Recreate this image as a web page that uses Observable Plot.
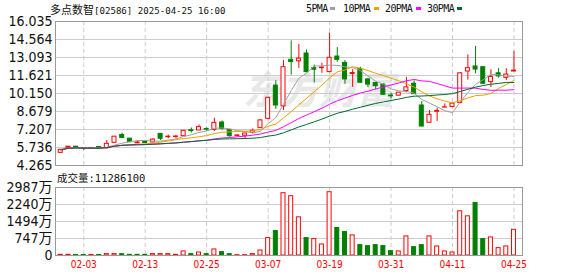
<!DOCTYPE html>
<html><head><meta charset="utf-8">
<script src="https://cdn.jsdelivr.net/npm/d3@7"></script>
<script src="https://cdn.jsdelivr.net/npm/@observablehq/plot@0.6"></script>
<style>
html,body{margin:0;padding:0;background:#fff;}
body{width:578px;height:276px;overflow:hidden;position:relative;}
#main,#vol{position:absolute;left:0;}
#main{top:0;} #vol{top:175px;}
.cjk{font-family:"Noto Sans CJK SC",sans-serif;}
.mono{font-family:"DejaVu Sans Mono",monospace;}
#title{position:absolute;left:50px;top:0px;line-height:17px;white-space:nowrap;color:#111;}
#title .cjk{font-size:11px;}
#title .mono{font-size:9.1px;}
.leg{position:absolute;top:2px;line-height:14px;font-size:10px;letter-spacing:-0.6px;color:#111;white-space:nowrap;}
.sw{position:absolute;top:7px;width:5px;height:3px;}
#vlabel{position:absolute;left:57px;top:169px;line-height:16px;white-space:nowrap;color:#111;}
#vlabel .cjk{font-size:10.5px;}
#vlabel .mono{font-size:10.5px;}
svg text{font-family:"Liberation Sans Narrow","Arial Narrow","DejaVu Sans Condensed","Noto Sans CJK SC",sans-serif;}
</style></head><body>
<div id="main"></div>
<div id="vol"></div>
<div id="title"><span class="cjk">多点数智</span><span class="mono">[02586] 2025-04-25 16:00</span></div>
<div id="legend"></div>
<div id="vlabel"><span class="cjk">成交量</span><span class="mono">:11286100</span></div>
<script>
// ---- data ----
const dates = ["01-24","01-27","01-28","02-03","02-04","02-05","02-06","02-07","02-10","02-11","02-12","02-13","02-14","02-17","02-18","02-19","02-20","02-21","02-24","02-25","02-26","02-27","02-28","03-03","03-04","03-05","03-06","03-07","03-10","03-11","03-12","03-13","03-14","03-17","03-18","03-19","03-20","03-21","03-24","03-25","03-26","03-27","03-28","03-31","04-01","04-02","04-03","04-07","04-08","04-09","04-10","04-11","04-14","04-15","04-16","04-17","04-22","04-23","04-24","04-25"];
const open  = [5.30,5.72,5.80,5.68,5.70,5.78,5.68,6.12,6.76,6.46, 6.08,6.24,6.15,6.85,6.58,6.60,6.66,7.15,7.13,7.25, 7.18,7.78,7.18,6.68,6.70,6.95,7.32,8.08,10.80,9.10, 12.90,12.78,13.42,12.22,12.22,11.90,13.17,12.65,11.75,12.15, 11.30,11.00,10.88,9.98,9.97,10.35,10.95,9.17,7.76,8.66, 9.00,9.05,9.38,11.95,12.36,12.30,11.08,11.80,11.43,11.95];
const high  = [5.55,5.82,5.82,5.70,5.74,5.82,6.31,6.64,6.90,6.47, 6.25,6.26,6.45,6.88,6.75,6.72,7.12,7.33,7.58,7.35, 8.13,7.90,7.20,6.78,6.90,7.25,8.00,9.85,11.20,12.85, 14.45,14.15,13.70,12.48,12.62,15.08,13.90,12.85,12.10,12.30, 11.35,11.02,10.95,10.17,10.23,11.47,11.18,9.50,8.76,8.95, 9.30,9.35,11.85,13.30,14.00,12.32,12.09,12.20,12.17,13.60];
const low   = [5.27,5.70,5.72,5.48,5.64,5.62,5.60,6.10,6.50,6.15, 6.05,6.08,6.12,6.30,6.45,6.45,6.64,6.92,7.12,7.05, 7.05,7.15,6.58,6.60,6.45,6.85,7.30,8.00,8.85,8.75, 11.65,12.20,11.85,11.00,11.80,11.85,12.71,10.90,10.65,11.00, 10.62,10.45,10.00,9.72,9.95,10.20,10.08,7.44,7.74,7.87, 8.98,9.00,9.30,11.25,11.76,10.90,10.64,11.40,11.20,11.93];
const close = [5.55,5.80,5.76,5.65,5.66,5.64,6.04,6.62,6.52,6.18, 6.15,6.10,6.38,6.45,6.62,6.63,7.10,7.08,7.40,7.20, 7.75,7.25,6.66,6.72,6.88,7.10,7.95,9.80,9.17,12.30, 12.72,13.00,11.90,12.10,12.27,13.07,12.90,11.30,11.82,11.03, 10.88,10.75,10.05,9.92,10.22,10.65,10.10,7.45,8.41,8.72, 9.02,9.32,11.80,12.22,12.11,10.95,11.50,11.55,11.70,12.02];
// volume in 万 shares
const volume = [30,30,25,25,25,25,60,60,60,30, 30,30,60,60,60,30,177,60,130,60, 265,147,60,15,15,60,220,765,1074,2736, 2604,1677,765,721,485,2780,1206,1030,883,456, 412,456,412,191,177,838,368,456,838,397, 177,132,1942,1721,2310,721,794,324,397,1128.61];
const dateTicks = ["02-03","02-13","02-25","03-07","03-19","03-31","04-11","04-25"];
const priceTicks = [4.265,5.736,7.207,8.679,10.150,11.621,13.093,14.564,16.035];
const priceLabels = ["4.265","5.736","7.207","8.679","10.150","11.621","13.093","14.564","16.035"];
const volTicks = [0,747,1494,2240,2987];
const volLabels = ["0","747万","1494万","2240万","2987万"];
const maPeriods = [5,10,20,30];
const maNames = ["5PMA","10PMA","20PMA","30PMA"];
const maColors = ["#a0a0a0","#f0a000","#ff00ff","#006a2e"];

// ---- build ----
const RED = "#ff0000", GREEN = "#008000";
const rows = dates.map((d, i) => ({
  i, date: d, open: open[i], high: high[i], low: low[i], close: close[i], volume: volume[i],
  up: close[i] >= open[i],
  volUp: i === 0 ? true : close[i] >= close[i - 1]
}));
const tickIdx = dateTicks.map(d => dates.indexOf(d));
const xDomain = [-0.68, 60.11];
const hw = 0.26;

const main = Plot.plot({
  width: 578, height: 174,
  marginLeft: 55, marginRight: 56, marginTop: 21, marginBottom: 9,
  x: {type: "linear", domain: xDomain, axis: null},
  y: {domain: [4.265, 16.035], axis: null},
  style: {background: "transparent", fontSize: "14px", color: "#111", overflow: "visible"},
  marks: [
    Plot.text(["东方财富"], {frameAnchor: "middle", dx: 30, dy: -2, text: d => d, fontSize: 38, fontWeight: "bold", fontStyle: "italic", fill: "#e8e8e8", fontFamily: "Noto Sans CJK SC"}),
    Plot.gridY(priceTicks, {stroke: "#cccccc", strokeOpacity: 1}),
    Plot.gridX(tickIdx, {stroke: "#cccccc", strokeOpacity: 1, strokeDasharray: "4,3"}),
    Plot.axisY(priceTicks, {label: null, tickSize: 0, tickPadding: 3, tickFormat: d => priceLabels[priceTicks.indexOf(d)], fontSize: 14, fill: "#111"}),
    Plot.ruleX(rows, {x: "i", y1: "low", y2: "high", stroke: d => d.up ? RED : GREEN, strokeWidth: 1}),
    Plot.rect(rows, {x1: d => d.i - hw, x2: d => d.i + hw, y1: "open", y2: "close", fill: d => d.up ? "#ffffff" : GREEN, stroke: d => d.up ? RED : GREEN, strokeWidth: 1}),
    ...maPeriods.map((k, j) => Plot.lineY(rows, Plot.windowY({k, anchor: "end"}, {x: "i", y: "close", stroke: maColors[j], strokeWidth: 1}))),
    Plot.frame({stroke: "#999999"})
  ]
});
document.getElementById("main").appendChild(main);

const vol = Plot.plot({
  width: 578, height: 101,
  marginLeft: 55, marginRight: 56, marginTop: 12, marginBottom: 21,
  x: {type: "linear", domain: xDomain, axis: null},
  y: {domain: [0, 2987], axis: null},
  style: {background: "transparent", fontSize: "14px", color: "#111", overflow: "visible"},
  marks: [
    Plot.gridY(volTicks, {stroke: "#cccccc", strokeOpacity: 1}),
    Plot.gridX(tickIdx, {stroke: "#cccccc", strokeOpacity: 1, strokeDasharray: "4,3"}),
    Plot.rect(rows, {x1: d => d.i - hw, x2: d => d.i + hw, y1: 0, y2: "volume", fill: d => d.volUp ? "#ffffff" : GREEN, stroke: d => d.volUp ? RED : GREEN, strokeWidth: 1}),
    Plot.axisY(volTicks, {label: null, tickSize: 0, tickPadding: 3, tickFormat: d => volLabels[volTicks.indexOf(d)], fontSize: 14, fill: "#111"}),
    Plot.axisX(tickIdx, {label: null, tickSize: 0, tickPadding: 5, tickFormat: d => dates[d], color: RED, fontSize: 10, fontFamily: "DejaVu Sans Mono"}),
    Plot.frame({stroke: "#999999"})
  ]
});
document.getElementById("vol").appendChild(vol);

// legend
const legPos = [[306, 330], [343, 374], [385, 416], [427, 457]];
const leg = document.getElementById("legend");
maNames.forEach((n, j) => {
  const t = document.createElement("span");
  t.className = "leg mono"; t.textContent = n; t.style.left = legPos[j][0] + "px";
  leg.appendChild(t);
  const s = document.createElement("span");
  s.className = "sw"; s.style.left = legPos[j][1] + "px"; s.style.background = maColors[j];
  leg.appendChild(s);
});
</script>
</body></html>
